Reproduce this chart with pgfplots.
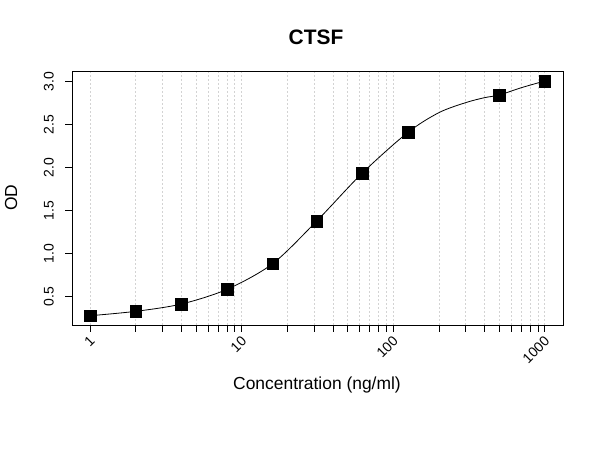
\documentclass[border=0pt]{standalone}
\usepackage{fontspec}
\setmainfont{Liberation Sans}
\usepackage{pgfplots}
\pgfplotsset{compat=1.18}
\definecolor{lgrid}{RGB}{211,211,211}

\begin{document}
\begin{tikzpicture}
\useasboundingbox (0,0) rectangle (600bp,450bp);
\begin{axis}[
    at={(72bp,125bp)}, anchor=south west,
    scale only axis,
    width=491bp, height=253.3bp,
    xmode=log,
    xmin=0.7586, xmax=1318,
    ymin=0.171, ymax=3.116,
    axis line style={line width=0.8bp},
    xtick={1,10,100,1000},
    xticklabels={1,10,100,1000},
    minor xtick={2,3,4,5,6,7,8,9,20,30,40,50,60,70,80,90,200,300,400,500,600,700,800,900},
    ytick={0.5,1.0,1.5,2.0,2.5,3.0},
    yticklabels={0.5,1.0,1.5,2.0,2.5,3.0},
    tick pos=left,
    tick align=outside,
    major tick length=7bp, minor tick length=7bp,
    every tick/.style={black, line width=0.8bp},
    xmajorgrids, xminorgrids,
    major grid style={lgrid, line width=0.8bp, dash pattern=on 2bp off 2bp},
    minor grid style={lgrid, line width=0.8bp, dash pattern=on 2bp off 2bp},
    tick label style={font=\fontsize{14}{16}\selectfont},
    xticklabel style={xshift=3bp, yshift=-6bp, rotate=45, anchor=east, inner sep=1bp},
    yticklabel style={xshift=-10bp, rotate=90, anchor=south, inner sep=1bp},
    clip=false,
]
% fitted curve
\addplot[black, line width=0.8bp, smooth, tension=0.5] coordinates {
    (1,0.279)(2,0.330)(4,0.415)(8,0.586)(16,0.884)(31.25,1.380)
    (62.5,1.938)(125,2.411)(200,2.640)(300,2.756)(400,2.814)(500,2.845)
    (700,2.930)(1000,3.008)
};
% standards
\addplot[only marks, mark=square*, mark size=5.8bp, black] coordinates {
    (1,0.279)(2,0.330)(4,0.415)(8,0.586)(16,0.884)(31.25,1.380)
    (62.5,1.938)(125,2.411)(500,2.845)(1000,3.008)
};
\end{axis}
\node[font=\bfseries\fontsize{21}{24}\selectfont] at (316bp,412.5bp) {CTSF};
\node[font=\fontsize{17.5}{20}\selectfont] at (317bp,65bp) {Concentration (ng/ml)};
\node[font=\fontsize{17.5}{20}\selectfont, rotate=90] at (11bp,252.5bp) {OD};
\end{tikzpicture}
\end{document}
